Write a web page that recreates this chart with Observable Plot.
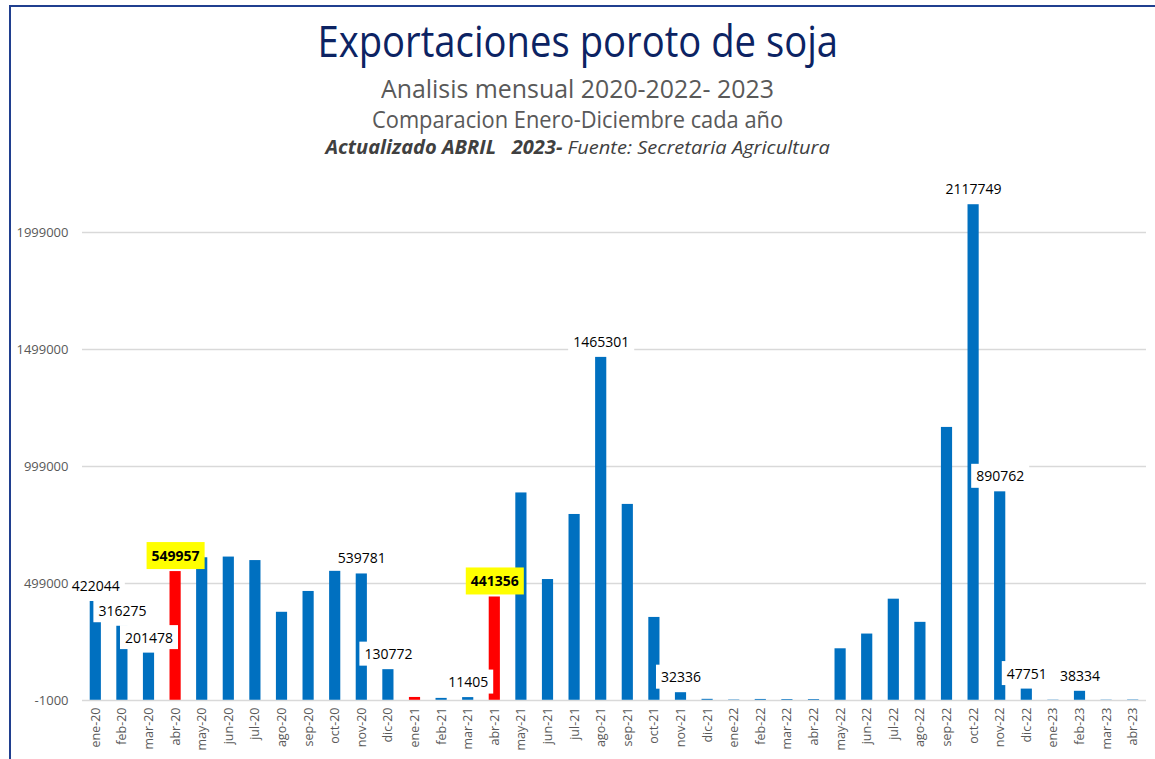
<!DOCTYPE html>
<html>
<head>
<meta charset="utf-8">
<script src="https://cdn.jsdelivr.net/npm/d3@7"></script>
<script src="https://cdn.jsdelivr.net/npm/@observablehq/plot@0.6"></script>
<style>
html,body{margin:0;padding:0;background:#fff;}
#page{position:relative;width:1155px;height:759px;overflow:hidden;font-family:"Open Sans",sans-serif;}
.frame-top{position:absolute;left:9px;top:5px;right:0;height:2px;background:#203f8f;}
.frame-left{position:absolute;left:9px;top:5px;bottom:0;width:2px;background:#203f8f;}
.t{position:absolute;left:0;width:1155px;text-align:center;line-height:1;white-space:nowrap;}
.t span{display:inline-block;white-space:pre;transform-origin:50% 50%;}
#title{top:19px;font-size:43px;color:#0c2363;}
#sub1{top:76px;font-size:25px;color:#595959;}
#sub2{top:108px;font-size:23px;color:#595959;}
#sub3{top:138px;font-size:19px;color:#404040;font-style:italic;}
#chart{position:absolute;left:0;top:160px;}
</style>
</head>
<body>
<div id="page">
  <div class="frame-top"></div>
  <div class="frame-left"></div>
  <div class="t" id="title"><span data-w="521">Exportaciones poroto de soja</span></div>
  <div class="t" id="sub1"><span data-w="393">Analisis mensual 2020-2022- 2023</span></div>
  <div class="t" id="sub2"><span data-w="411">Comparacion Enero-Diciembre cada año</span></div>
  <div class="t" id="sub3"><span data-w="504"><b>Actualizado ABRIL   2023-</b> Fuente: Secretaria Agricultura</span></div>
  <div id="chart"></div>
</div>
<script>
// ---- data ----
const months = [
  "ene-20","feb-20","mar-20","abr-20","may-20","jun-20","jul-20","ago-20","sep-20","oct-20","nov-20","dic-20",
  "ene-21","feb-21","mar-21","abr-21","may-21","jun-21","jul-21","ago-21","sep-21","oct-21","nov-21","dic-21",
  "ene-22","feb-22","mar-22","abr-22","may-22","jun-22","jul-22","ago-22","sep-22","oct-22","nov-22","dic-22",
  "ene-23","feb-23","mar-23","abr-23"
];
const exportValues = [
  422044, 316275, 201478, 549957, 609000, 612000, 597000, 376000, 465000, 551000, 539781, 130772,
  12000, 8000, 11405, 441356, 886000, 516000, 794000, 1465301, 837000, 354000, 32336, 4000,
  1500, 3500, 3000, 3000, 220000, 283000, 432000, 333000, 1166000, 2117749, 890762, 47751,
  1000, 38334, 1000, 1500
];
const redMonths = ["abr-20", "ene-21", "abr-21"];
const labeledMonths = ["ene-20","feb-20","mar-20","abr-20","nov-20","dic-20","mar-21","abr-21","ago-21","nov-21","oct-22","nov-22","dic-22","feb-23"];
const highlightMonths = ["abr-20", "abr-21"];
const yTicks = [-1000, 499000, 999000, 1499000, 1999000];

// ---- style ----
const BLUE = "#0070c0", RED = "#ff0000", GRID = "#d9d9d9", AXIS_TEXT = "#595959";

const rows = months.map((m, i) => ({month: m, value: exportValues[i], red: redMonths.includes(m)}));
const plainLabels = rows.filter(d => labeledMonths.includes(d.month) && !highlightMonths.includes(d.month));
const hiLabels = rows.filter(d => highlightMonths.includes(d.month));

const plot = Plot.plot({
  width: 1155,
  height: 599,
  marginLeft: 82,
  marginRight: 9,
  marginTop: 10,
  marginBottom: 59,
  style: {fontFamily: "'Open Sans', sans-serif", fontSize: "12px", color: AXIS_TEXT, background: "transparent"},
  x: {type: "band", domain: months, paddingInner: 0.58, paddingOuter: 0.29, round: false, label: null},
  y: {domain: [-1000, 2264000], label: null},
  marks: [
    Plot.ruleY(yTicks, {stroke: GRID, strokeWidth: 1.5}),
    Plot.barY(rows, {x: "month", y: "value", fill: d => d.red ? RED : BLUE}),
    Plot.text(plainLabels, {x: "month", y: "value", text: d => String(d.value), dy: -15,
      fill: "#000", fontSize: 14, ariaDescription: "plainlabels"}),
    Plot.text(hiLabels, {x: "month", y: "value", text: d => String(d.value), dy: -15,
      fill: "#000", fontSize: 14, fontWeight: "bold", ariaDescription: "hilabels"}),
    Plot.axisY(yTicks, {tickSize: 0, tickPadding: 14, tickFormat: d => String(d), fontSize: 13, fill: AXIS_TEXT, label: null}),
    Plot.axisX({tickRotate: -90, tickSize: 0, tickPadding: 7, fontSize: 12.5, fill: AXIS_TEXT, label: null})
  ]
});
document.getElementById("chart").append(plot);

// label background boxes (white, or yellow for highlighted)
function addBoxes(desc, color, padX, padY) {
  const g = plot.querySelector(`g[aria-description="${desc}"]`);
  if (!g) return;
  g.querySelectorAll("text").forEach(t => {
    const b = t.getBBox();
    const r = document.createElementNS("http://www.w3.org/2000/svg", "rect");
    r.setAttribute("x", b.x - padX);
    r.setAttribute("y", b.y - padY);
    r.setAttribute("width", b.width + 2 * padX);
    r.setAttribute("height", b.height + 2 * padY);
    r.setAttribute("fill", color);
    const tr = t.getAttribute("transform");
    if (tr) r.setAttribute("transform", tr);
    g.insertBefore(r, t);
  });
}
addBoxes("plainlabels", "#ffffff", 5, 2.5);
addBoxes("hilabels", "#ffff00", 5, 4);

// fit title lines to their measured widths
document.querySelectorAll(".t span").forEach(s => {
  const target = +s.dataset.w;
  const w = s.offsetWidth;
  if (w > 0) s.style.transform = `scaleX(${target / w})`;
});
</script>
</body>
</html>
